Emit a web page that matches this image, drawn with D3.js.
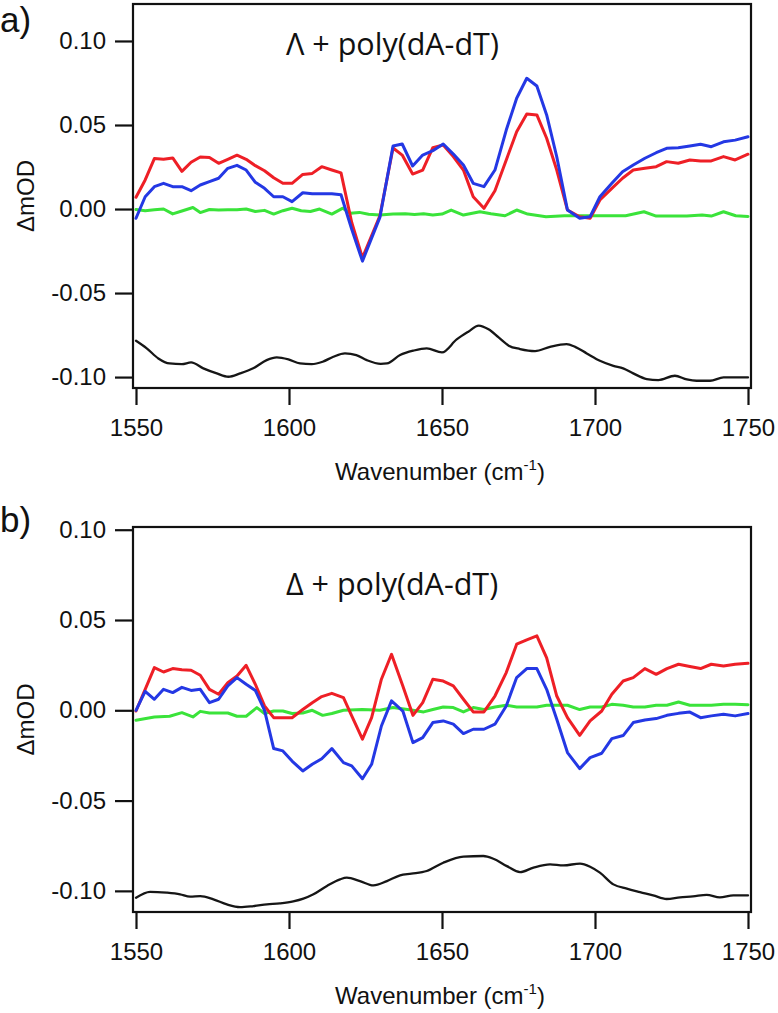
<!DOCTYPE html>
<html>
<head>
<meta charset="utf-8">
<script src="https://cdn.jsdelivr.net/npm/d3@7"></script>
<style>
  html, body { margin: 0; padding: 0; background: #fff; }
  svg { display: block; }
</style>
</head>
<body>
<svg id="chart" width="778" height="1013"></svg>
<script>
// ---------------- DATA ----------------
const xTicks = [1550, 1600, 1650, 1700, 1750];
const yTicks = [-0.10, -0.05, 0.00, 0.05, 0.10];

// Panel a: Λ + poly(dA-dT)
const wavenumberA = [1550,1553,1556,1559,1562,1565,1568,1571,1574,1577,
  1580,1583,1586,1589,1592,1595,1598,1601,1604.5,1607.6,
  1610.7,1614,1617,1620.5,1624,1629.7,1634,1637,1640.4,1643.7,
  1647,1650.4,1653.7,1657,1660.2,1663.7,1667.3,1671,1674.4,1677.7,
  1681,1684.2,1687.5,1691,1695,1698.4,1701.6,1705.5,1709,1712.5,
  1716.3,1720,1723.4,1727.2,1731,1734.5,1738,1742,1745.8,1750];
const redA = [0.007,0.0173,0.030,0.0296,0.0304,0.0224,0.0278,0.031,0.0307,0.0272,
  0.0296,0.032,0.0296,0.0258,0.0228,0.0186,0.0153,0.0153,0.0206,0.0212,
  0.0252,0.0232,0.0215,-0.008,-0.029,-0.004,0.0363,0.0321,0.0208,0.0232,
  0.0365,0.0381,0.0312,0.0232,0.0073,0.0004,0.0109,0.0292,0.046,0.0566,
  0.056,0.0421,0.0232,-0.0006,-0.0046,-0.0055,0.0054,0.0123,0.0183,0.0232,
  0.0242,0.0252,0.0282,0.0272,0.0292,0.0286,0.0286,0.0312,0.0292,0.0326];
const blueA = [-0.0055,0.0073,0.0133,0.0153,0.0133,0.0133,0.0109,0.0143,0.0163,0.0183,
  0.0242,0.026,0.0232,0.0159,0.0123,0.0073,0.0073,0.0044,0.0097,0.0091,
  0.0091,0.0091,0.0085,-0.012,-0.031,-0.005,0.0375,0.0387,0.0256,0.0321,
  0.0347,0.0387,0.0327,0.0262,0.0153,0.0133,0.0232,0.047,0.0659,0.0778,
  0.0732,0.056,0.0311,-0.0006,-0.0055,-0.0046,0.0073,0.0153,0.0222,0.0262,
  0.0302,0.0335,0.0361,0.0365,0.0375,0.0385,0.0371,0.04,0.041,0.043];
const greenA_w = [1550,1553,1556,1559,1562,1565,1568.6,1571,1574,1577,
  1580,1583,1586,1589,1592,1595,1598,1601,1604,1607,
  1610,1614,1617.6,1620,1623,1626,1629.7,1634,1638,1641,
  1644,1647,1650,1653,1657,1662.4,1666,1670.6,1674.4,1678,
  1684,1690,1696,1702,1710,1716,1720,1725,1730,1735,
  1738,1742,1746,1750];
const greenA = [-0.0003,-0.001,-0.0005,0.0,-0.0029,-0.0012,0.0009,-0.0021,-0.0003,-0.0006,
  -0.0005,-0.0005,0.0,-0.0015,-0.0008,-0.003,-0.001,0.0005,-0.001,-0.0015,
  0.0,-0.003,0.0005,-0.0025,-0.002,-0.0031,-0.0036,-0.003,-0.0028,-0.0032,
  -0.0028,-0.0035,-0.003,-0.0006,-0.0036,-0.0016,-0.0028,-0.004,-0.0006,-0.003,
  -0.0046,-0.004,-0.004,-0.004,-0.004,-0.0016,-0.0042,-0.0042,-0.0042,-0.0035,
  -0.0042,-0.0016,-0.004,-0.0044];
const blackA_w = [1550,1553.5,1557.3,1561,1565,1568,1572,1576.4,1580.2,1584,
  1588.3,1592.7,1596,1599.8,1603.6,1607.4,1611,1614.5,1618.3,1622,
  1625.4,1630,1632,1636.3,1640.6,1645,1650,1654.8,1658.6,1662,
  1665.2,1668.5,1671.8,1675.5,1680.4,1685.3,1690.7,1693.5,1697.3,1701.6,
  1706,1709.2,1712.5,1716.9,1720.7,1726.1,1730,1733.2,1737.6,1742,1750];
const blackA = [-0.0784,-0.0829,-0.0889,-0.0919,-0.0923,-0.0913,-0.0948,-0.0978,-0.0998,-0.0978,
  -0.0948,-0.0899,-0.0883,-0.0895,-0.0919,-0.0923,-0.0909,-0.0879,-0.0859,-0.0869,
  -0.0899,-0.0921,-0.0919,-0.0869,-0.0843,-0.0829,-0.0853,-0.0776,-0.073,-0.0694,
  -0.0716,-0.0764,-0.0813,-0.0833,-0.0845,-0.082,-0.0804,-0.082,-0.0859,-0.0903,
  -0.0933,-0.0948,-0.0978,-0.1012,-0.1018,-0.0992,-0.1014,-0.1022,-0.1022,-0.1002,-0.1002];

// Panel b: Δ + poly(dA-dT)
const wavenumberB = [1550,1553,1556,1559,1562,1565,1568,1571,1574,1577,
  1580,1583,1586,1589,1592,1595,1598,1601,1604.5,1607.6,
  1610.7,1614,1617.8,1620.5,1624,1627,1630.2,1633.5,1637.2,1640.5,
  1643.7,1647,1650.4,1653.7,1657,1660.2,1663.7,1667.3,1671,1674.4,
  1677.7,1681,1684.2,1687.5,1691,1695,1698.4,1702.2,1705.5,1709.2,
  1712.5,1716.3,1720,1723.5,1727.3,1731,1734.5,1738,1742,1745.8,1750];
const redB = [-0.0004,0.0116,0.0236,0.0212,0.0231,0.0224,0.0222,0.0194,0.0116,0.0089,
  0.0153,0.019,0.0249,0.0144,0.0024,-0.0041,-0.0041,-0.0041,0.0004,0.0042,
  0.0076,0.0094,0.007,-0.0031,-0.016,-0.0041,0.0172,0.031,0.0135,-0.0028,
  0.0042,0.0172,0.0162,0.0135,0.0061,-0.0009,-0.0009,0.0079,0.0209,0.0366,
  0.039,0.0412,0.029,0.0079,-0.0041,-0.0139,-0.0059,-0.0004,0.0089,0.0162,
  0.0181,0.0231,0.0199,0.0231,0.0255,0.0242,0.0231,0.0255,0.0245,0.0255,0.026];
const blueB = [0.0,0.0105,0.0061,0.0116,0.0098,0.0127,0.011,0.0116,0.0042,0.0061,
  0.0135,0.0181,0.0144,0.011,0.0,-0.0212,-0.0225,-0.0281,-0.0336,-0.0299,
  -0.0268,-0.0212,-0.029,-0.0308,-0.0379,-0.0299,-0.0087,0.0052,-0.0004,-0.0179,
  -0.0151,-0.0068,-0.0059,-0.0077,-0.0129,-0.0105,-0.0105,-0.0077,0.0024,0.0181,
  0.0231,0.0231,0.0116,-0.005,-0.0234,-0.0323,-0.0262,-0.0238,-0.0157,-0.014,
  -0.0068,-0.0054,-0.0046,-0.0028,-0.0017,-0.001,-0.0041,-0.0031,-0.0022,-0.0031,-0.0018];
const greenB_w = [1550,1556,1561,1565,1568.6,1571,1574,1580,1583,1586,
  1589.5,1592,1595,1598,1601,1604.5,1607.6,1611,1614,1617.8,
  1624,1629.7,1634,1640.5,1644,1647,1650.4,1653.7,1657,1660.2,
  1663.7,1667.3,1671,1674.4,1681,1684.2,1687.5,1691,1695,1698.4,
  1702.2,1705.5,1709.2,1712.5,1716.3,1720,1723.5,1727.3,1731,1734.5,
  1738,1742,1745.8,1750];
const greenB = [-0.0055,-0.0037,-0.0033,-0.0013,-0.0037,-0.0006,-0.0015,-0.0015,-0.0033,-0.0033,
  0.0015,-0.0018,-0.0004,-0.0004,-0.0018,-0.0015,0.0,-0.0028,-0.0018,0.0,
  0.0004,0.0,0.0015,0.0,-0.0009,0.0004,0.0018,0.0015,-0.0009,0.0015,
  0.0004,0.0018,0.0028,0.0018,0.0018,0.0028,0.0028,0.0028,0.0004,0.0018,
  0.0018,0.0033,0.0028,0.0018,0.0018,0.0028,0.0028,0.0046,0.0028,0.0028,
  0.0028,0.0033,0.0033,0.0031];
const blackB_w = [1550,1554.6,1560,1564.4,1567.7,1571,1575.3,1579.7,1584,1588.4,
  1592.8,1597,1601.4,1604.7,1608,1612.4,1616.7,1618.9,1623.2,1627.6,
  1632,1636.3,1640,1645,1650.4,1657,1663.5,1666.8,1671.2,1675.5,
  1679.9,1685.3,1689.7,1695.1,1698.4,1701.6,1706,1710.4,1714.7,1719,
  1723.4,1727.8,1732,1736.5,1740.8,1745.2,1750];
const blackB = [-0.1038,-0.1005,-0.101,-0.1019,-0.1032,-0.1029,-0.1047,-0.1075,-0.109,-0.1084,
  -0.1075,-0.1069,-0.1058,-0.1043,-0.1019,-0.0973,-0.0936,-0.0927,-0.0946,-0.097,
  -0.0946,-0.0914,-0.0905,-0.089,-0.0844,-0.081,-0.0807,-0.0822,-0.0863,-0.0896,
  -0.0871,-0.0853,-0.0859,-0.0849,-0.0866,-0.0899,-0.0964,-0.0988,-0.1007,-0.1025,
  -0.1045,-0.1036,-0.1031,-0.1022,-0.1036,-0.1025,-0.1025];

// ---------------- DRAWING ----------------
const svg = d3.select('#chart');
const FONT = "'Liberation Sans', Arial, Helvetica, sans-serif";
const COLORS = { red: '#ee1f26', blue: '#2438e4', green: '#3ae33a', black: '#161616' };

const zip = (xs, ys) => xs.map((x, i) => [x, ys[i]]);

function panel(cfg) {
  const g = svg.append('g');
  const x = d3.scaleLinear().domain([1550, 1750]).range([136, 748]);
  const y = d3.scaleLinear().domain(cfg.yDomain).range([cfg.bottom, cfg.top]);
  const left = 133, right = 751;

  const line = d3.line().x(d => x(d[0])).y(d => y(d[1]));
  const smooth = d3.line().x(d => x(d[0])).y(d => y(d[1])).curve(d3.curveMonotoneX);
  const series = [
    { data: zip(cfg.blackW, cfg.black), color: COLORS.black, gen: smooth, w: 2.3 },
    { data: zip(cfg.greenW, cfg.green), color: COLORS.green, gen: line, w: 3 },
    { data: zip(cfg.w, cfg.red), color: COLORS.red, gen: line, w: 3 },
    { data: zip(cfg.w, cfg.blue), color: COLORS.blue, gen: line, w: 3 }
  ];
  series.forEach(s => {
    g.append('path').attr('d', s.gen(s.data)).attr('fill', 'none')
      .attr('stroke', s.color).attr('stroke-width', s.w)
      .attr('stroke-linejoin', 'round').attr('stroke-linecap', 'round');
  });

  g.append('rect').attr('x', left).attr('y', cfg.top).attr('width', right - left)
    .attr('height', cfg.bottom - cfg.top).attr('fill', 'none')
    .attr('stroke', '#111').attr('stroke-width', 2.2);

  const ya = g.append('g').attr('transform', `translate(${left},0)`)
    .call(d3.axisLeft(y).tickValues(yTicks).tickFormat(d3.format('.2f')).tickSize(18).tickPadding(9));
  ya.select('.domain').remove();
  ya.selectAll('line').attr('stroke', '#111').attr('stroke-width', 2.2);
  ya.selectAll('text').attr('font-family', FONT).attr('font-size', 24).attr('fill', '#111')
    .text(d => d3.format('.2f')(d).replace('−', '-'));

  const xa = g.append('g').attr('transform', `translate(0,${cfg.bottom})`)
    .call(d3.axisBottom(x).tickValues(xTicks).tickFormat(d3.format('d')).tickSize(17).tickPadding(14));
  xa.select('.domain').remove();
  xa.selectAll('line').attr('stroke', '#111').attr('stroke-width', 2.2);
  xa.selectAll('text').attr('font-family', FONT).attr('font-size', 24).attr('fill', '#111');

  const xt = g.append('text').attr('x', 440).attr('y', cfg.bottom + 92)
    .attr('text-anchor', 'middle').attr('font-family', FONT).attr('font-size', 24).attr('fill', '#111');
  xt.append('tspan').text('Wavenumber (cm');
  xt.append('tspan').attr('font-size', 15).attr('dy', -10).text('-1');
  xt.append('tspan').attr('dy', 10).text(')');

  g.append('text').attr('transform', `translate(34,${(cfg.top + cfg.bottom) / 2}) rotate(-90)`)
    .attr('text-anchor', 'middle').attr('font-family', FONT).attr('font-size', 24).attr('fill', '#111')
    .text('ΔmOD');

  g.append('text').attr('x', 286).attr('y', cfg.annY)
    .attr('font-family', "'Open Sans', 'Noto Sans', sans-serif").attr('font-size', 30.5).attr('fill', '#111')
    .text(cfg.label);

  g.append('text').attr('x', 0).attr('y', cfg.letterY)
    .attr('font-family', FONT).attr('font-size', 35).attr('fill', '#111')
    .text(cfg.letter);
}

panel({
  top: 4, bottom: 388, yDomain: [-0.1065, 0.122],
  w: wavenumberA, red: redA, blue: blueA,
  greenW: greenA_w, green: greenA, blackW: blackA_w, black: blackA,
  label: 'Λ + poly(dA-dT)', annY: 55, letter: 'a)', letterY: 32
});
panel({
  top: 527, bottom: 912, yDomain: [-0.1117, 0.1015],
  w: wavenumberB, red: redB, blue: blueB,
  greenW: greenB_w, green: greenB, blackW: blackB_w, black: blackB,
  label: 'Δ + poly(dA-dT)', annY: 595, letter: 'b)', letterY: 532
});
</script>
</body>
</html>
